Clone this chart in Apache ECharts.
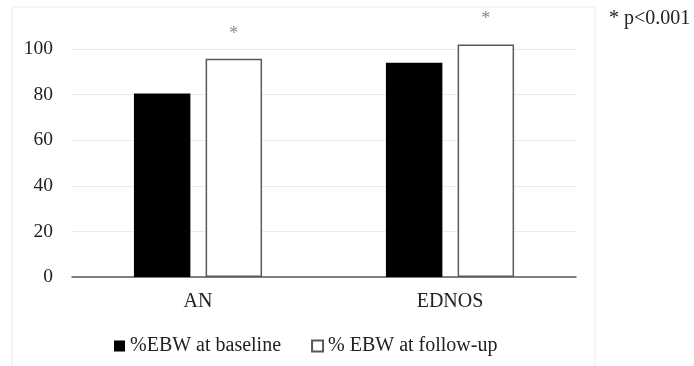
<!DOCTYPE html>
<html>
<head>
<meta charset="utf-8">
<script src="https://cdn.jsdelivr.net/npm/echarts@6/dist/echarts.min.js"></script>
<style>
  html, body { margin: 0; padding: 0; background: #fff; }
  #chart { width: 694px; height: 366px; }
</style>
</head>
<body>
<div id="chart"></div>
<script>
const categories = ['AN', 'EDNOS']
const baseline = [80.5, 94]
const followUp = [95.7, 102]
const yTicks = [0, 20, 40, 60, 80, 100]

const serif = '"Liberation Serif", "DejaVu Serif", serif'
const chart = echarts.init(document.getElementById('chart'))

const option = {
  animation: false,
  backgroundColor: '#fff',
  textStyle: { fontFamily: serif },
  graphic: [
    {
      type: 'rect',
      shape: { x: 12, y: 7, width: 583, height: 380 },
      style: { fill: 'none', stroke: '#ebebeb', lineWidth: 1 },
      silent: true
    },
    {
      type: 'text',
      left: 609,
      top: 9,
      style: { text: '* p<0.001', font: '20px ' + serif, fill: '#222' }
    }
  ],
  grid: { left: 72, right: 118, top: 49, bottom: 89 },
  legend: {
    left: 109,
    top: 331,
    itemWidth: 11,
    itemHeight: 11,
    itemGap: 30,
    icon: 'rect',
    textStyle: { fontFamily: serif, fontSize: 20, color: '#222' },
    data: ['%EBW at baseline', '% EBW at follow-up']
  },
  xAxis: {
    type: 'category',
    data: categories,
    axisLine: { lineStyle: { color: '#595959', width: 1.5 } },
    axisTick: { show: false },
    axisLabel: { fontFamily: serif, fontSize: 20, color: '#222', margin: 15 }
  },
  yAxis: {
    type: 'value',
    min: yTicks[0],
    max: yTicks[yTicks.length - 1],
    interval: 20,
    axisLine: { show: false },
    axisTick: { show: false },
    axisLabel: { fontFamily: serif, fontSize: 19.5, color: '#222', margin: 19 },
    splitLine: { lineStyle: { color: '#e6ecee', width: 1 } }
  },
  series: [
    {
      name: '%EBW at baseline',
      type: 'bar',
      data: baseline,
      barWidth: '22.4%',
      barGap: '27%',
      clip: false,
      itemStyle: { color: '#000', borderColor: '#000', borderWidth: 0 }
    },
    {
      name: '% EBW at follow-up',
      type: 'bar',
      data: followUp,
      barWidth: '22.4%',
      clip: false,
      itemStyle: { color: '#fff', borderColor: '#595959', borderWidth: 1.5 },
      label: {
        show: true,
        position: 'top',
        distance: 16,
        formatter: '*',
        fontFamily: serif,
        fontSize: 18,
        color: '#888'
      }
    }
  ]
}

chart.setOption(option)
</script>
</body>
</html>
